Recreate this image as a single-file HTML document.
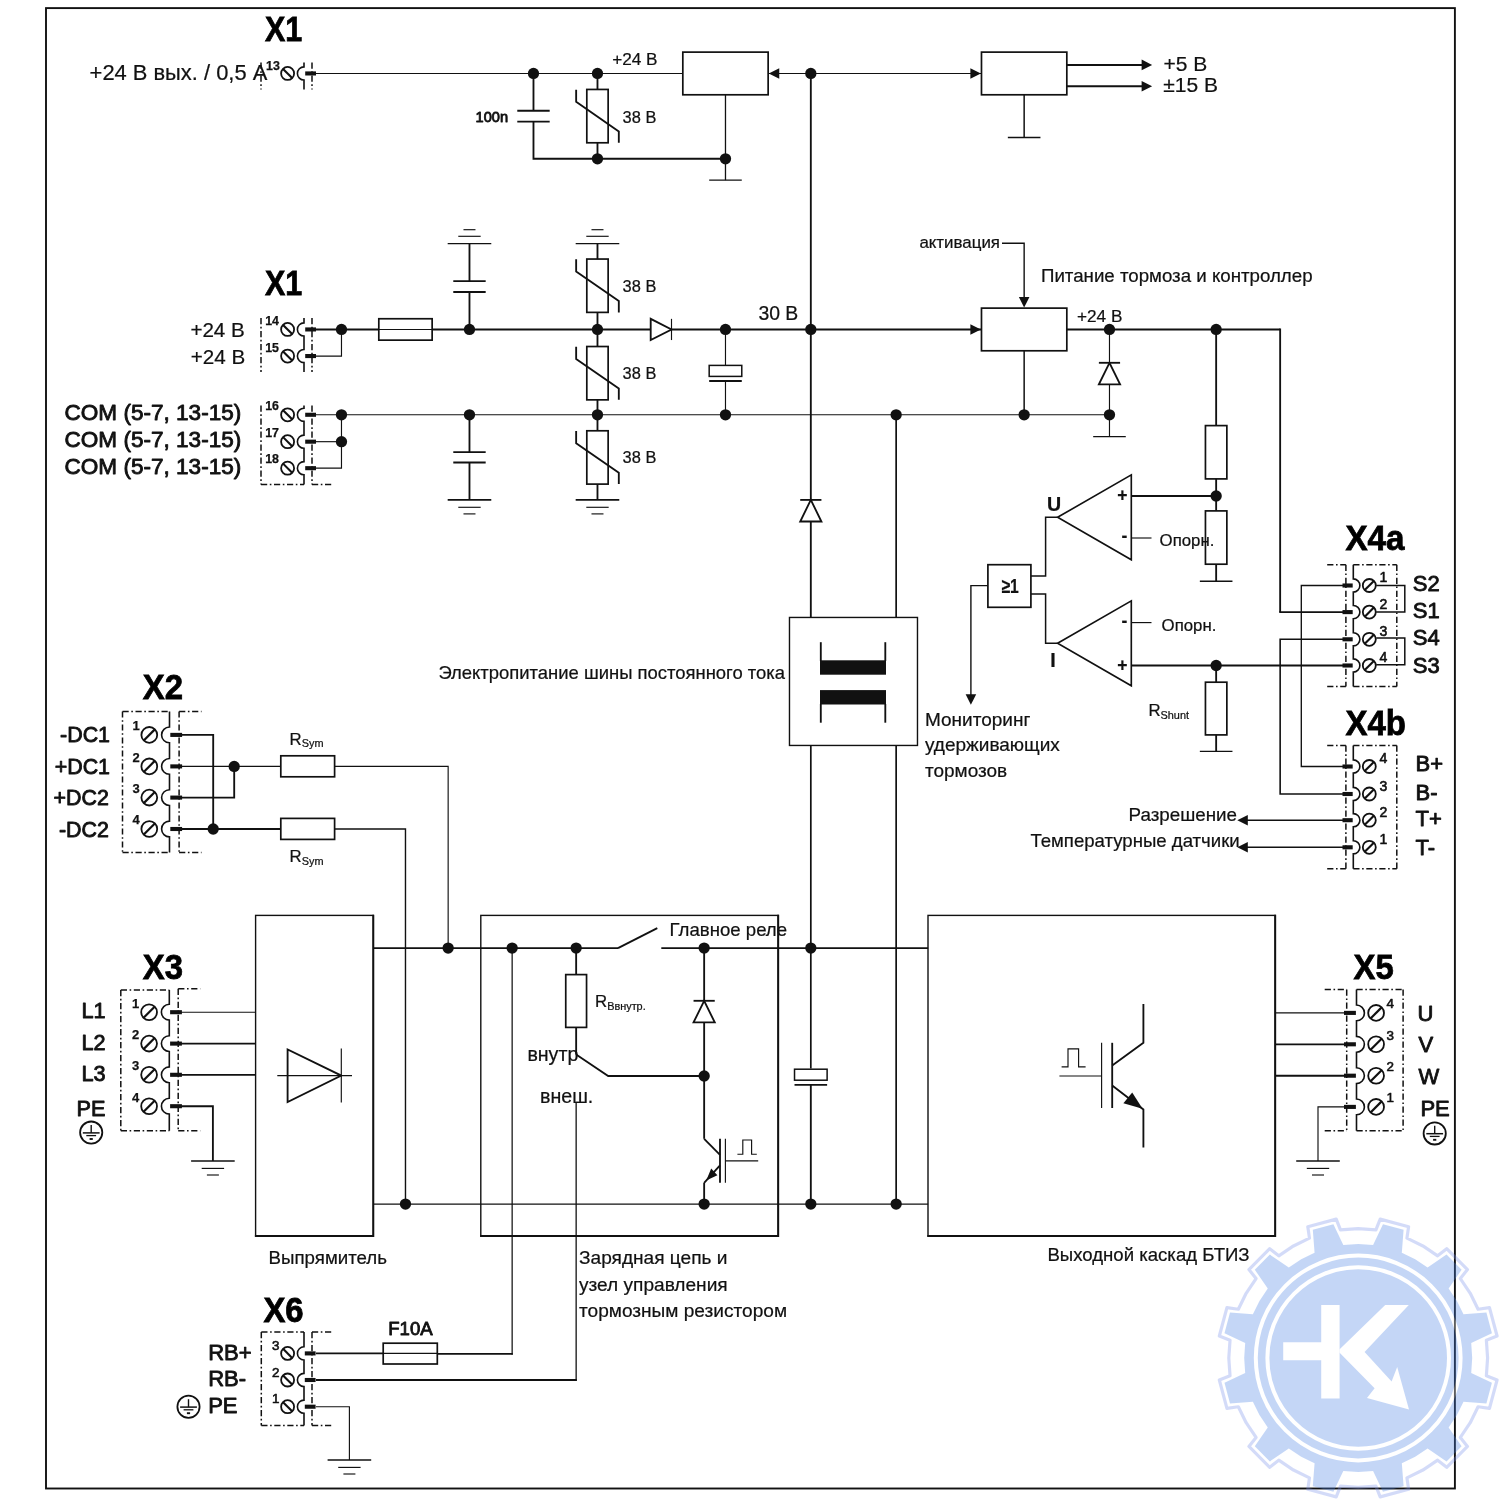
<!DOCTYPE html>
<html lang="ru">
<head>
<meta charset="utf-8">
<title>Структурная схема преобразователя</title>
<style>
html,body{margin:0;padding:0;background:#fff;}
body{width:1500px;height:1500px;overflow:hidden;}
svg{display:block;will-change:transform;font-family:"Liberation Sans",sans-serif;}
svg text{stroke:#111;stroke-width:0.22px;}
svg text.s{stroke:#111;stroke-width:0.85px;stroke-linejoin:round;}
svg text.n{stroke:#111;stroke-width:0.6px;stroke-linejoin:round;}
svg text.m{stroke:#111;stroke-width:0.25px;}
svg text.h{stroke:#000;stroke-width:0.8px;fill:#000;}
</style>
</head>
<body>
<svg width="1500" height="1500" viewBox="0 0 1500 1500">
<rect x="0" y="0" width="1500" height="1500" fill="#fff"/>
<g stroke="#111" fill="none">
<rect x="46" y="8.1" width="1408.9" height="1480.4" stroke-width="1.9" fill="none"/>
<path d="M261 62.5L261 89.5" stroke-width="1.5" stroke-dasharray="6.2 2.6 1.6 2.6"/>
<path d="M312 62.5L312 89.5" stroke-width="1.5" stroke-dasharray="6.2 2.6 1.6 2.6"/>
<path d="M304 62.5L304 66.85A6.6 6.6 0 0 0 304 80.05L304 89.5" stroke-width="1.6"/>
<circle cx="287.6" cy="73.45" r="6.5" stroke-width="1.8" fill="#fff"/>
<path d="M283.05 68.9L292.15 78" stroke-width="2.1"/>
<path d="M305.2 73.45L316 73.45" stroke-width="4.1"/>
<path d="M316 73.45L682.82 73.45" stroke-width="1.15"/>
<circle cx="533.48" cy="73.45" r="5.65" fill="#111" stroke="none"/>
<circle cx="597.48" cy="73.45" r="5.65" fill="#111" stroke="none"/>
<path d="M533.48 73.45 L533.48 110.7" stroke-width="1.85"/>
<path d="M517.28 110.7L549.68 110.7" stroke-width="1.85"/>
<path d="M517.28 121.6L549.68 121.6" stroke-width="1.85"/>
<path d="M533.48 121.6 L533.48 158.78 L725.48 158.78" stroke-width="1.85"/>
<path d="M597.48 73.45L597.48 89.45" stroke-width="1.85"/>
<rect x="586.81" y="89.45" width="21.33" height="53.33" stroke-width="1.7" fill="none"/>
<path d="M576.15 89.65 L576.15 101.85 L618.81 131.45 L618.81 142.78" stroke-width="1.85"/>
<path d="M597.48 142.78L597.48 158.78" stroke-width="1.85"/>
<circle cx="597.48" cy="158.78" r="5.65" fill="#111" stroke="none"/>
<rect x="682.82" y="52.12" width="85.33" height="42.66" stroke-width="1.7" fill="none"/>
<path d="M725.48 94.78L725.48 180.12" stroke-width="1.3"/>
<circle cx="725.48" cy="158.78" r="5.65" fill="#111" stroke="none"/>
<path d="M709.18 180.12L741.78 180.12" stroke-width="1.35"/>
<path d="M768.15 73.45L981.48 73.45" stroke-width="1.15"/>
<path d="M768.75 73.45 L779.25 68.15 L779.25 78.75 Z" fill="#111" stroke="none"/>
<path d="M980.88 73.45 L970.38 68.15 L970.38 78.75 Z" fill="#111" stroke="none"/>
<circle cx="810.82" cy="73.45" r="5.65" fill="#111" stroke="none"/>
<rect x="981.48" y="52.12" width="85.34" height="42.66" stroke-width="1.7" fill="none"/>
<path d="M1024.15 94.78L1024.15 137.45" stroke-width="1.5"/>
<path d="M1007.85 137.45L1040.45 137.45" stroke-width="1.35"/>
<path d="M1066.82 64.92L1146.15 64.92" stroke-width="2"/>
<path d="M1152.15 64.92 L1141.65 59.62 L1141.65 70.22 Z" fill="#111" stroke="none"/>
<path d="M1066.82 86.25L1146.15 86.25" stroke-width="2"/>
<path d="M1152.15 86.25 L1141.65 80.95 L1141.65 91.55 Z" fill="#111" stroke="none"/>
<path d="M261 318L261 372" stroke-width="1.5" stroke-dasharray="6.2 2.6 1.6 2.6"/>
<path d="M312 318L312 372" stroke-width="1.5" stroke-dasharray="6.2 2.6 1.6 2.6"/>
<path d="M304 318L304 322.85A6.6 6.6 0 0 0 304 336.05L304 349.45A6.6 6.6 0 0 0 304 362.65L304 372" stroke-width="1.6"/>
<circle cx="287.6" cy="329.45" r="6.5" stroke-width="1.8" fill="#fff"/>
<path d="M283.05 324.9L292.15 334" stroke-width="2.1"/>
<circle cx="287.6" cy="356.05" r="6.5" stroke-width="1.8" fill="#fff"/>
<path d="M283.05 351.5L292.15 360.6" stroke-width="2.1"/>
<path d="M305.2 329.45L316 329.45" stroke-width="4.1"/>
<path d="M305.2 356.05L316 356.05" stroke-width="4.1"/>
<path d="M316 329.45L378.81 329.45" stroke-width="1.85"/>
<path d="M316 356.05 L341.48 356.05 L341.48 329.45" stroke-width="1.15"/>
<circle cx="341.48" cy="329.45" r="5.65" fill="#111" stroke="none"/>
<rect x="378.81" y="318.75" width="53.33" height="21.4" stroke-width="1.7" fill="none"/>
<path d="M378.81 329.45L432.15 329.45" stroke-width="1.15"/>
<path d="M432.15 329.45L650.7 329.45" stroke-width="1.85"/>
<path d="M650.7 318.85L650.7 340.05L671.5 329.45Z" stroke-width="1.85" fill="#fff"/>
<path d="M671.5 318.85L671.5 340.05" stroke-width="1.15"/>
<path d="M671.5 329.45L981.48 329.45" stroke-width="1.85"/>
<path d="M980.88 329.45 L970.38 324.15 L970.38 334.75 Z" fill="#111" stroke="none"/>
<circle cx="469.48" cy="329.45" r="5.65" fill="#111" stroke="none"/>
<circle cx="597.48" cy="329.45" r="5.65" fill="#111" stroke="none"/>
<circle cx="725.48" cy="329.45" r="5.65" fill="#111" stroke="none"/>
<circle cx="810.82" cy="329.45" r="5.65" fill="#111" stroke="none"/>
<path d="M469.48 329.45L469.48 292" stroke-width="1.85"/>
<path d="M453.28 281.1L485.68 281.1" stroke-width="1.85"/>
<path d="M453.28 292L485.68 292" stroke-width="1.85"/>
<path d="M469.48 281.1L469.48 243.7" stroke-width="1.85"/>
<path d="M447.68 243.7L491.28 243.7" stroke-width="1.3"/>
<path d="M458.28 236.3L480.68 236.3" stroke-width="1.15"/>
<path d="M463.48 229.7L475.48 229.7" stroke-width="1.15"/>
<path d="M597.48 243.7L597.48 259.05" stroke-width="1.85"/>
<path d="M575.68 243.7L619.28 243.7" stroke-width="1.3"/>
<path d="M586.28 236.3L608.68 236.3" stroke-width="1.15"/>
<path d="M591.48 229.7L603.48 229.7" stroke-width="1.15"/>
<rect x="586.81" y="259.05" width="21.33" height="53.33" stroke-width="1.7" fill="none"/>
<path d="M576.15 259.25 L576.15 271.45 L618.81 301.05 L618.81 312.38" stroke-width="1.85"/>
<path d="M597.48 312.38L597.48 329.45" stroke-width="1.85"/>
<path d="M597.48 329.45L597.48 346.52" stroke-width="1.85"/>
<rect x="586.81" y="346.52" width="21.33" height="53.33" stroke-width="1.7" fill="none"/>
<path d="M576.15 346.72 L576.15 358.92 L618.81 388.52 L618.81 399.85" stroke-width="1.85"/>
<path d="M597.48 399.85L597.48 414.78" stroke-width="1.85"/>
<path d="M597.48 414.78L597.48 430.78" stroke-width="1.85"/>
<rect x="586.81" y="430.78" width="21.33" height="53.33" stroke-width="1.7" fill="none"/>
<path d="M576.15 430.98 L576.15 443.18 L618.81 472.78 L618.81 484.11" stroke-width="1.85"/>
<path d="M597.48 484.12L597.48 499.9" stroke-width="1.85"/>
<path d="M575.68 499.9L619.28 499.9" stroke-width="1.9"/>
<path d="M586.28 507.3L608.68 507.3" stroke-width="1.15"/>
<path d="M591.48 513.9L603.48 513.9" stroke-width="1.15"/>
<path d="M469.48 414.78L469.48 452.1" stroke-width="1.85"/>
<path d="M453.28 452.1L485.68 452.1" stroke-width="1.85"/>
<path d="M453.28 462.5L485.68 462.5" stroke-width="1.85"/>
<path d="M469.48 462.5L469.48 499.9" stroke-width="1.85"/>
<path d="M447.68 499.9L491.28 499.9" stroke-width="1.7"/>
<path d="M458.28 507.3L480.68 507.3" stroke-width="1.15"/>
<path d="M463.48 513.9L475.48 513.9" stroke-width="1.15"/>
<path d="M725.48 329.45L725.48 365.4" stroke-width="1.15"/>
<rect x="709.18" y="365.4" width="32.6" height="11" stroke-width="1.5" fill="none"/>
<path d="M709.18 381L741.78 381" stroke-width="1.85"/>
<path d="M725.48 381L725.48 414.78" stroke-width="1.15"/>
<path d="M261 405.5L261 484.4" stroke-width="1.5" stroke-dasharray="6.2 2.6 1.6 2.6"/>
<path d="M312 405.5L312 484.4" stroke-width="1.5" stroke-dasharray="6.2 2.6 1.6 2.6"/>
<path d="M261 484.4L304 484.4" stroke-width="1.5" stroke-dasharray="6.2 2.6 1.6 2.6"/>
<path d="M312 484.4L331.5 484.4" stroke-width="1.5" stroke-dasharray="6.2 2.6 1.6 2.6"/>
<path d="M304 405.5L304 408.18A6.6 6.6 0 0 0 304 421.38L304 435.08A6.6 6.6 0 0 0 304 448.28L304 461.58A6.6 6.6 0 0 0 304 474.78L304 484.4" stroke-width="1.6"/>
<circle cx="287.6" cy="414.78" r="6.5" stroke-width="1.8" fill="#fff"/>
<path d="M283.05 410.23L292.15 419.33" stroke-width="2.1"/>
<path d="M305.2 414.78L316 414.78" stroke-width="4.1"/>
<circle cx="287.6" cy="441.68" r="6.5" stroke-width="1.8" fill="#fff"/>
<path d="M283.05 437.13L292.15 446.23" stroke-width="2.1"/>
<path d="M305.2 441.68L316 441.68" stroke-width="4.1"/>
<circle cx="287.6" cy="468.18" r="6.5" stroke-width="1.8" fill="#fff"/>
<path d="M283.05 463.63L292.15 472.73" stroke-width="2.1"/>
<path d="M305.2 468.18L316 468.18" stroke-width="4.1"/>
<path d="M316 414.78L1109.48 414.78" stroke-width="1.15"/>
<path d="M316 441.68L341.48 441.68" stroke-width="1.15"/>
<path d="M316 468.18 L341.48 468.18 L341.48 414.78" stroke-width="1.15"/>
<circle cx="341.48" cy="414.78" r="5.65" fill="#111" stroke="none"/>
<circle cx="341.48" cy="441.68" r="5.65" fill="#111" stroke="none"/>
<circle cx="469.48" cy="414.78" r="5.65" fill="#111" stroke="none"/>
<circle cx="597.48" cy="414.78" r="5.65" fill="#111" stroke="none"/>
<circle cx="725.48" cy="414.78" r="5.65" fill="#111" stroke="none"/>
<circle cx="896.15" cy="414.78" r="5.65" fill="#111" stroke="none"/>
<circle cx="1024.15" cy="414.78" r="5.65" fill="#111" stroke="none"/>
<circle cx="1109.48" cy="414.78" r="5.65" fill="#111" stroke="none"/>
<path d="M810.82 73.45L810.82 617.3" stroke-width="1.85"/>
<path d="M800.22 499.9L821.42 499.9" stroke-width="1.85"/>
<path d="M810.82 499.9L800.22 521.5L821.42 521.5Z" stroke-width="1.85" fill="#fff"/>
<path d="M896.15 414.78L896.15 617.3" stroke-width="1.7"/>
<rect x="981.48" y="308.12" width="85.34" height="42.66" stroke-width="1.7" fill="none"/>
<path d="M1024.15 350.78L1024.15 414.78" stroke-width="1.5"/>
<path d="M1002 243.2 L1024.15 243.2 L1024.15 302.12" stroke-width="1.4"/>
<path d="M1024.15 307.62 L1018.85 297.12 L1029.45 297.12 Z" fill="#111" stroke="none"/>
<path d="M1066.82 329.45L1280.15 329.45" stroke-width="1.85"/>
<path d="M1280.15 328.55L1280.15 612.1" stroke-width="1.85"/>
<circle cx="1109.48" cy="329.45" r="5.65" fill="#111" stroke="none"/>
<circle cx="1216.15" cy="329.45" r="5.65" fill="#111" stroke="none"/>
<path d="M1109.48 329.45L1109.48 362.8" stroke-width="1.15"/>
<path d="M1098.88 362.8L1120.08 362.8" stroke-width="1.85"/>
<path d="M1109.48 362.8L1098.88 384.4L1120.08 384.4Z" stroke-width="1.85" fill="#fff"/>
<path d="M1109.48 384.4L1109.48 436.6" stroke-width="1.15"/>
<path d="M1093.18 436.6L1125.78 436.6" stroke-width="1.35"/>
<path d="M1216.15 329.45L1216.15 425.6" stroke-width="1.85"/>
<rect x="1205.45" y="425.6" width="21.4" height="53.3" stroke-width="1.7" fill="none"/>
<path d="M1216.15 478.9L1216.15 510.9" stroke-width="1.85"/>
<circle cx="1216.15" cy="496" r="5.65" fill="#111" stroke="none"/>
<rect x="1205.45" y="510.9" width="21.4" height="53.3" stroke-width="1.7" fill="none"/>
<path d="M1216.15 564.2L1216.15 581.2" stroke-width="1.85"/>
<path d="M1199.85 581.2L1232.45 581.2" stroke-width="1.35"/>
<path d="M1057.6 517.3L1131.3 474.9L1131.3 559.7Z" stroke-width="1.65" fill="none"/>
<path d="M1057.6 643.3L1131.3 600.9L1131.3 685.7Z" stroke-width="1.65" fill="none"/>
<path d="M1057.6 517.3 L1045.6 517.3 L1045.6 575.9 L1030.9 575.9" stroke-width="1.5"/>
<path d="M1030.9 594 L1045.6 594 L1045.6 643.3 L1057.6 643.3" stroke-width="1.5"/>
<rect x="987.9" y="564.7" width="43" height="42.6" stroke-width="1.7" fill="none"/>
<path d="M987.9 585.6 L970.9 585.6 L970.9 696" stroke-width="1.4"/>
<path d="M970.9 704.8 L965.6 694.3 L976.2 694.3 Z" fill="#111" stroke="none"/>
<path d="M1131.3 496L1216.15 496" stroke-width="1.85"/>
<path d="M1131.3 538L1151.5 538" stroke-width="1.15"/>
<path d="M1131.3 622.6L1151.5 622.6" stroke-width="1.15"/>
<path d="M1131.3 665.5L1344 665.5" stroke-width="1.85"/>
<circle cx="1216.15" cy="665.5" r="5.65" fill="#111" stroke="none"/>
<path d="M1216.15 665.5L1216.15 682.2" stroke-width="1.85"/>
<rect x="1205.45" y="682.2" width="21.4" height="52.7" stroke-width="1.7" fill="none"/>
<path d="M1216.15 734.9L1216.15 751.3" stroke-width="1.85"/>
<path d="M1199.85 751.3L1232.45 751.3" stroke-width="1.35"/>
<rect x="789.48" y="617.45" width="128" height="128" stroke-width="1.4" fill="none"/>
<rect x="820" y="660.3" width="66" height="14.4" fill="#111" stroke="none"/>
<rect x="820" y="690.1" width="66" height="14.4" fill="#111" stroke="none"/>
<path d="M820.8 642.2L820.8 661" stroke-width="1.85"/>
<path d="M885.3 642.2L885.3 661" stroke-width="1.85"/>
<path d="M820.8 704L820.8 722.7" stroke-width="1.85"/>
<path d="M885.3 704L885.3 722.7" stroke-width="1.85"/>
<path d="M1345.9 564.7L1345.9 686.5" stroke-width="1.5" stroke-dasharray="6.2 2.6 1.6 2.6"/>
<path d="M1396.8 564.7L1396.8 686.5" stroke-width="1.5" stroke-dasharray="6.2 2.6 1.6 2.6"/>
<path d="M1327.2 564.7L1345.9 564.7" stroke-width="1.5" stroke-dasharray="6.2 2.6 1.6 2.6"/>
<path d="M1353.3 564.7L1396.8 564.7" stroke-width="1.5" stroke-dasharray="6.2 2.6 1.6 2.6"/>
<path d="M1327.2 686.5L1345.9 686.5" stroke-width="1.5" stroke-dasharray="6.2 2.6 1.6 2.6"/>
<path d="M1353.3 686.5L1396.8 686.5" stroke-width="1.5" stroke-dasharray="6.2 2.6 1.6 2.6"/>
<path d="M1353.3 564.7L1353.3 578.9A6.6 6.6 0 0 1 1353.3 592.1L1353.3 605.5A6.6 6.6 0 0 1 1353.3 618.7L1353.3 632.7A6.6 6.6 0 0 1 1353.3 645.9L1353.3 658.9A6.6 6.6 0 0 1 1353.3 672.1L1353.3 686.5" stroke-width="1.6"/>
<circle cx="1369.3" cy="585.5" r="6.5" stroke-width="1.8" fill="#fff"/>
<path d="M1364.75 590.05L1373.85 580.95" stroke-width="2.1"/>
<path d="M1342.5 585.5L1352.7 585.5" stroke-width="4.1"/>
<circle cx="1369.3" cy="612.1" r="6.5" stroke-width="1.8" fill="#fff"/>
<path d="M1364.75 616.65L1373.85 607.55" stroke-width="2.1"/>
<path d="M1342.5 612.1L1352.7 612.1" stroke-width="4.1"/>
<circle cx="1369.3" cy="639.3" r="6.5" stroke-width="1.8" fill="#fff"/>
<path d="M1364.75 643.85L1373.85 634.75" stroke-width="2.1"/>
<path d="M1342.5 639.3L1352.7 639.3" stroke-width="4.1"/>
<circle cx="1369.3" cy="665.5" r="6.5" stroke-width="1.8" fill="#fff"/>
<path d="M1364.75 670.05L1373.85 660.95" stroke-width="2.1"/>
<path d="M1342.5 665.5L1352.7 665.5" stroke-width="4.1"/>
<path d="M1345.9 745.5L1345.9 868.7" stroke-width="1.5" stroke-dasharray="6.2 2.6 1.6 2.6"/>
<path d="M1396.8 745.5L1396.8 868.7" stroke-width="1.5" stroke-dasharray="6.2 2.6 1.6 2.6"/>
<path d="M1327.2 745.5L1345.9 745.5" stroke-width="1.5" stroke-dasharray="6.2 2.6 1.6 2.6"/>
<path d="M1353.3 745.5L1396.8 745.5" stroke-width="1.5" stroke-dasharray="6.2 2.6 1.6 2.6"/>
<path d="M1327.2 868.7L1345.9 868.7" stroke-width="1.5" stroke-dasharray="6.2 2.6 1.6 2.6"/>
<path d="M1353.3 868.7L1396.8 868.7" stroke-width="1.5" stroke-dasharray="6.2 2.6 1.6 2.6"/>
<path d="M1353.3 745.5L1353.3 759.9A6.6 6.6 0 0 1 1353.3 773.1L1353.3 787.4A6.6 6.6 0 0 1 1353.3 800.6L1353.3 813.6A6.6 6.6 0 0 1 1353.3 826.8L1353.3 840.7A6.6 6.6 0 0 1 1353.3 853.9L1353.3 868.7" stroke-width="1.6"/>
<circle cx="1369.3" cy="766.5" r="6.5" stroke-width="1.8" fill="#fff"/>
<path d="M1364.75 771.05L1373.85 761.95" stroke-width="2.1"/>
<path d="M1342.5 766.5L1352.7 766.5" stroke-width="4.1"/>
<circle cx="1369.3" cy="794" r="6.5" stroke-width="1.8" fill="#fff"/>
<path d="M1364.75 798.55L1373.85 789.45" stroke-width="2.1"/>
<path d="M1342.5 794L1352.7 794" stroke-width="4.1"/>
<circle cx="1369.3" cy="820.2" r="6.5" stroke-width="1.8" fill="#fff"/>
<path d="M1364.75 824.75L1373.85 815.65" stroke-width="2.1"/>
<path d="M1342.5 820.2L1352.7 820.2" stroke-width="4.1"/>
<circle cx="1369.3" cy="847.3" r="6.5" stroke-width="1.8" fill="#fff"/>
<path d="M1364.75 851.85L1373.85 842.75" stroke-width="2.1"/>
<path d="M1342.5 847.3L1352.7 847.3" stroke-width="4.1"/>
<path d="M1376.2 585.5 L1404.8 585.5 L1404.8 612.1 L1376.2 612.1" stroke-width="1.5"/>
<path d="M1376.2 638.1 L1404.8 638.1 L1404.8 664.7 L1376.2 664.7" stroke-width="1.5"/>
<path d="M1280.15 611.2 L1280.15 612.1 L1343 612.1" stroke-width="1.85"/>
<path d="M1343 585.5 L1301.3 585.5 L1301.3 766.5 L1343 766.5" stroke-width="1.35"/>
<path d="M1343 639.3 L1280.15 639.3 L1280.15 794 L1343 794" stroke-width="1.6"/>
<path d="M1246 820.2L1343 820.2" stroke-width="1.5"/>
<path d="M1237.3 820.2 L1247.8 814.9 L1247.8 825.5 Z" fill="#111" stroke="none"/>
<path d="M1246 847.3L1343 847.3" stroke-width="1.5"/>
<path d="M1237.3 847.3 L1247.8 842 L1247.8 852.6 Z" fill="#111" stroke="none"/>
<path d="M122.5 711.4L122.5 852.5" stroke-width="1.5" stroke-dasharray="6.2 2.6 1.6 2.6"/>
<path d="M179.1 711.4L179.1 852.5" stroke-width="1.5" stroke-dasharray="6.2 2.6 1.6 2.6"/>
<path d="M122.5 711.4L169.5 711.4" stroke-width="1.5" stroke-dasharray="6.2 2.6 1.6 2.6"/>
<path d="M179.1 711.4L201.5 711.4" stroke-width="1.5" stroke-dasharray="6.2 2.6 1.6 2.6"/>
<path d="M122.5 852.5L169.5 852.5" stroke-width="1.5" stroke-dasharray="6.2 2.6 1.6 2.6"/>
<path d="M179.1 852.5L201.5 852.5" stroke-width="1.5" stroke-dasharray="6.2 2.6 1.6 2.6"/>
<path d="M169.5 711.4L169.5 727A7.9 7.9 0 0 0 169.5 742.8L169.5 758.5A7.9 7.9 0 0 0 169.5 774.3L169.5 789.7A7.9 7.9 0 0 0 169.5 805.5L169.5 821.1A7.9 7.9 0 0 0 169.5 836.9L169.5 852.5" stroke-width="1.6"/>
<circle cx="149.3" cy="734.9" r="7.9" stroke-width="1.8" fill="#fff"/>
<path d="M143.77 740.43L154.83 729.37" stroke-width="2.2"/>
<path d="M170.3 734.9L182.1 734.9" stroke-width="4.1"/>
<circle cx="149.3" cy="766.4" r="7.9" stroke-width="1.8" fill="#fff"/>
<path d="M143.77 771.93L154.83 760.87" stroke-width="2.2"/>
<path d="M170.3 766.4L182.1 766.4" stroke-width="4.1"/>
<circle cx="149.3" cy="797.6" r="7.9" stroke-width="1.8" fill="#fff"/>
<path d="M143.77 803.13L154.83 792.07" stroke-width="2.2"/>
<path d="M170.3 797.6L182.1 797.6" stroke-width="4.1"/>
<circle cx="149.3" cy="829" r="7.9" stroke-width="1.8" fill="#fff"/>
<path d="M143.77 834.53L154.83 823.47" stroke-width="2.2"/>
<path d="M170.3 829L182.1 829" stroke-width="4.1"/>
<path d="M182 734.9 L213.2 734.9 L213.2 829" stroke-width="1.85"/>
<path d="M182 766.4L280.8 766.4" stroke-width="1.15"/>
<path d="M182 797.6 L234.2 797.6 L234.2 766.4" stroke-width="1.85"/>
<path d="M182 829L280.8 829" stroke-width="1.85"/>
<circle cx="234.2" cy="766.4" r="5.65" fill="#111" stroke="none"/>
<circle cx="213.2" cy="829" r="5.65" fill="#111" stroke="none"/>
<rect x="280.8" y="755.8" width="53.8" height="21" stroke-width="1.7" fill="none"/>
<rect x="280.8" y="818.4" width="53.8" height="21" stroke-width="1.7" fill="none"/>
<path d="M334.6 766.4 L448.15 766.4 L448.15 948.12" stroke-width="1.15"/>
<path d="M334.6 829 L405.48 829 L405.48 1204.12" stroke-width="1.4"/>
<path d="M120.8 990L120.8 1130.7" stroke-width="1.5" stroke-dasharray="6.2 2.6 1.6 2.6"/>
<path d="M178.2 988.8L178.2 1130.7" stroke-width="1.5" stroke-dasharray="6.2 2.6 1.6 2.6"/>
<path d="M120.8 990L169.3 990" stroke-width="1.5" stroke-dasharray="6.2 2.6 1.6 2.6"/>
<path d="M178.2 988.8L200.2 988.8" stroke-width="1.5" stroke-dasharray="6.2 2.6 1.6 2.6"/>
<path d="M120.8 1130.7L169.3 1130.7" stroke-width="1.5" stroke-dasharray="6.2 2.6 1.6 2.6"/>
<path d="M178.2 1130.7L200.2 1130.7" stroke-width="1.5" stroke-dasharray="6.2 2.6 1.6 2.6"/>
<path d="M169.3 990L169.3 1004.3A7.9 7.9 0 0 0 169.3 1020.1L169.3 1035.7A7.9 7.9 0 0 0 169.3 1051.5L169.3 1066.9A7.9 7.9 0 0 0 169.3 1082.7L169.3 1098.3A7.9 7.9 0 0 0 169.3 1114.1L169.3 1130.7" stroke-width="1.6"/>
<circle cx="149.1" cy="1012.2" r="7.9" stroke-width="1.8" fill="#fff"/>
<path d="M143.57 1017.73L154.63 1006.67" stroke-width="2.2"/>
<path d="M170.1 1012.2L181.9 1012.2" stroke-width="4.1"/>
<circle cx="149.1" cy="1043.6" r="7.9" stroke-width="1.8" fill="#fff"/>
<path d="M143.57 1049.13L154.63 1038.07" stroke-width="2.2"/>
<path d="M170.1 1043.6L181.9 1043.6" stroke-width="4.1"/>
<circle cx="149.1" cy="1074.8" r="7.9" stroke-width="1.8" fill="#fff"/>
<path d="M143.57 1080.33L154.63 1069.27" stroke-width="2.2"/>
<path d="M170.1 1074.8L181.9 1074.8" stroke-width="4.1"/>
<circle cx="149.1" cy="1106.2" r="7.9" stroke-width="1.8" fill="#fff"/>
<path d="M143.57 1111.73L154.63 1100.67" stroke-width="2.2"/>
<path d="M170.1 1106.2L181.9 1106.2" stroke-width="4.1"/>
<rect x="255.6" y="915.4" width="117.7" height="320.6" stroke-width="1.4" fill="none"/>
<path d="M254.9 1236 L373.3 1236 L373.3 914.7" stroke-width="1.95"/>
<path d="M181 1012.2L255.6 1012.2" stroke-width="1.15"/>
<path d="M181 1043.6L255.6 1043.6" stroke-width="1.85"/>
<path d="M181 1074.8L255.6 1074.8" stroke-width="1.85"/>
<path d="M181 1106.2 L212.9 1106.2 L212.9 1161" stroke-width="1.85"/>
<path d="M191.1 1161L234.7 1161" stroke-width="1.3"/>
<path d="M201.7 1168.4L224.1 1168.4" stroke-width="1.15"/>
<path d="M206.9 1175L218.9 1175" stroke-width="1.15"/>
<path d="M287.6 1049.4L287.6 1102L341.3 1075.6Z" stroke-width="1.85" fill="none"/>
<path d="M277.3 1075.6L352 1075.6" stroke-width="1.15"/>
<path d="M341.3 1048.6L341.3 1102.6" stroke-width="1.15"/>
<path d="M373.3 948.12L618 948.12" stroke-width="1.85"/>
<path d="M618 948.12L657.3 928.2" stroke-width="1.85"/>
<path d="M661.3 948.12L928.15 948.12" stroke-width="1.85"/>
<path d="M373.3 1204.12L928.15 1204.12" stroke-width="1.4"/>
<circle cx="448.15" cy="948.12" r="5.65" fill="#111" stroke="none"/>
<circle cx="512.15" cy="948.12" r="5.65" fill="#111" stroke="none"/>
<circle cx="576.15" cy="948.12" r="5.65" fill="#111" stroke="none"/>
<circle cx="704.15" cy="948.12" r="5.65" fill="#111" stroke="none"/>
<circle cx="810.82" cy="948.12" r="5.65" fill="#111" stroke="none"/>
<circle cx="405.48" cy="1204.12" r="5.65" fill="#111" stroke="none"/>
<circle cx="704.15" cy="1204.12" r="5.65" fill="#111" stroke="none"/>
<circle cx="810.82" cy="1204.12" r="5.65" fill="#111" stroke="none"/>
<circle cx="896.15" cy="1204.12" r="5.65" fill="#111" stroke="none"/>
<path d="M810.82 745.45L810.82 1068.6" stroke-width="1.7"/>
<rect x="794.52" y="1069.2" width="32.6" height="11" stroke-width="1.5" fill="none"/>
<path d="M794.52 1084.8L827.12 1084.8" stroke-width="1.85"/>
<path d="M810.82 1084.8L810.82 1204.12" stroke-width="1.85"/>
<path d="M896.15 745.45L896.15 1204.12" stroke-width="1.7"/>
<rect x="480.8" y="915.4" width="297.4" height="320.6" stroke-width="1.4" fill="none"/>
<path d="M480.1 1236 L778.2 1236 L778.2 914.7" stroke-width="1.95"/>
<path d="M576.15 948.12L576.15 974.6" stroke-width="1.85"/>
<rect x="565.75" y="974.6" width="20.8" height="52.8" stroke-width="1.7" fill="none"/>
<path d="M576.15 1027.4L576.15 1054.6" stroke-width="1.85"/>
<path d="M576.15 1054.6 L608.2 1076 L704.15 1076" stroke-width="1.85"/>
<circle cx="704.15" cy="1076" r="5.65" fill="#111" stroke="none"/>
<path d="M576.15 1102.8L576.15 1380.9" stroke-width="1.3"/>
<path d="M576.75 1380L316 1380" stroke-width="1.85"/>
<path d="M704.15 948.12L704.15 1000.8" stroke-width="1.85"/>
<path d="M693.55 1000.8L714.75 1000.8" stroke-width="1.85"/>
<path d="M704.15 1000.8L693.55 1022.4L714.75 1022.4Z" stroke-width="1.85" fill="#fff"/>
<path d="M704.15 1022.4L704.15 1138.8" stroke-width="1.85"/>
<path d="M704.15 1138.8L720 1154.8" stroke-width="1.85"/>
<path d="M720 1138.8L720 1182.8" stroke-width="1.85"/>
<path d="M725.4 1138.8L725.4 1182.8" stroke-width="1.15"/>
<path d="M720 1165.4L704.15 1182.8" stroke-width="1.85"/>
<path d="M704.15 1182.8L704.15 1204.12" stroke-width="1.85"/>
<path d="M706.2 1180.6L711.2 1168.6L717.4 1175.2Z" fill="#111" stroke="none"/>
<path d="M725.4 1160.8L758.2 1160.8" stroke-width="1.15"/>
<path d="M737.4 1154.2 L742.8 1154.2 L742.8 1140 L751.6 1140 L751.6 1154.2 L756.8 1154.2" stroke-width="1.15"/>
<path d="M512.15 948.12L512.15 1354.7" stroke-width="1.25"/>
<path d="M512.75 1353.9L437.3 1353.9" stroke-width="1.8"/>
<rect x="928" y="915.4" width="347.2" height="320.6" stroke-width="1.4" fill="none"/>
<path d="M927.3 1236 L1275.2 1236 L1275.2 914.7" stroke-width="1.95"/>
<path d="M1101.6 1042.8L1101.6 1108" stroke-width="1.15"/>
<path d="M1112.2 1042.8L1112.2 1108" stroke-width="1.85"/>
<path d="M1059.4 1076L1101.6 1076" stroke-width="1.15"/>
<path d="M1061.6 1066.8 L1068 1066.8 L1068 1048.8 L1078.6 1048.8 L1078.6 1066.8 L1085.6 1066.8" stroke-width="1.15"/>
<path d="M1112.2 1065.4 L1143.4 1042.8 L1143.4 1004" stroke-width="1.85"/>
<path d="M1112.2 1085.4 L1143.4 1109.4 L1143.4 1147.6" stroke-width="1.85"/>
<path d="M1142.6 1108.8L1123.4 1103.2L1132.2 1092.4Z" fill="#111" stroke="none"/>
<path d="M1346.7 989.6L1346.7 1130.7" stroke-width="1.5" stroke-dasharray="6.2 2.6 1.6 2.6"/>
<path d="M1403.1 989.6L1403.1 1130.7" stroke-width="1.5" stroke-dasharray="6.2 2.6 1.6 2.6"/>
<path d="M1324.7 989.6L1346.7 989.6" stroke-width="1.5" stroke-dasharray="6.2 2.6 1.6 2.6"/>
<path d="M1356.5 989.6L1403.1 989.6" stroke-width="1.5" stroke-dasharray="6.2 2.6 1.6 2.6"/>
<path d="M1324.7 1130.7L1346.7 1130.7" stroke-width="1.5" stroke-dasharray="6.2 2.6 1.6 2.6"/>
<path d="M1356.5 1130.7L1403.1 1130.7" stroke-width="1.5" stroke-dasharray="6.2 2.6 1.6 2.6"/>
<path d="M1356.5 989.6L1356.5 1005A7.9 7.9 0 0 1 1356.5 1020.8L1356.5 1036.4A7.9 7.9 0 0 1 1356.5 1052.2L1356.5 1067.8A7.9 7.9 0 0 1 1356.5 1083.6L1356.5 1099A7.9 7.9 0 0 1 1356.5 1114.8L1356.5 1130.7" stroke-width="1.6"/>
<circle cx="1376.1" cy="1012.9" r="7.9" stroke-width="1.8" fill="#fff"/>
<path d="M1370.57 1018.43L1381.63 1007.37" stroke-width="2.2"/>
<path d="M1344 1012.9L1355.9 1012.9" stroke-width="4.1"/>
<circle cx="1376.1" cy="1044.3" r="7.9" stroke-width="1.8" fill="#fff"/>
<path d="M1370.57 1049.83L1381.63 1038.77" stroke-width="2.2"/>
<path d="M1344 1044.3L1355.9 1044.3" stroke-width="4.1"/>
<circle cx="1376.1" cy="1075.7" r="7.9" stroke-width="1.8" fill="#fff"/>
<path d="M1370.57 1081.23L1381.63 1070.17" stroke-width="2.2"/>
<path d="M1344 1075.7L1355.9 1075.7" stroke-width="4.1"/>
<circle cx="1376.1" cy="1106.9" r="7.9" stroke-width="1.8" fill="#fff"/>
<path d="M1370.57 1112.43L1381.63 1101.37" stroke-width="2.2"/>
<path d="M1344 1106.9L1355.9 1106.9" stroke-width="4.1"/>
<path d="M1275.2 1012.9L1344 1012.9" stroke-width="1.15"/>
<path d="M1275.2 1044.3L1344 1044.3" stroke-width="1.85"/>
<path d="M1275.2 1075.7L1344 1075.7" stroke-width="1.85"/>
<path d="M1344 1106.9 L1318 1106.9 L1318 1161" stroke-width="1.15"/>
<path d="M1296.2 1161L1339.8 1161" stroke-width="1.3"/>
<path d="M1306.8 1168.4L1329.2 1168.4" stroke-width="1.15"/>
<path d="M1312 1175L1324 1175" stroke-width="1.15"/>
<path d="M261.3 1332L261.3 1425.4" stroke-width="1.5" stroke-dasharray="6.2 2.6 1.6 2.6"/>
<path d="M312 1332L312 1425.4" stroke-width="1.5" stroke-dasharray="6.2 2.6 1.6 2.6"/>
<path d="M261.3 1332L304 1332" stroke-width="1.5" stroke-dasharray="6.2 2.6 1.6 2.6"/>
<path d="M312 1332L331.5 1332" stroke-width="1.5" stroke-dasharray="6.2 2.6 1.6 2.6"/>
<path d="M261.3 1425.4L304 1425.4" stroke-width="1.5" stroke-dasharray="6.2 2.6 1.6 2.6"/>
<path d="M312 1425.4L331.5 1425.4" stroke-width="1.5" stroke-dasharray="6.2 2.6 1.6 2.6"/>
<path d="M304 1332L304 1346.8A6.6 6.6 0 0 0 304 1360L304 1373.4A6.6 6.6 0 0 0 304 1386.6L304 1400.1A6.6 6.6 0 0 0 304 1413.3L304 1425.4" stroke-width="1.6"/>
<circle cx="287.6" cy="1353.4" r="6.5" stroke-width="1.8" fill="#fff"/>
<path d="M283.05 1348.85L292.15 1357.95" stroke-width="2.1"/>
<path d="M304.8 1353.4L315.6 1353.4" stroke-width="4.1"/>
<circle cx="287.6" cy="1380" r="6.5" stroke-width="1.8" fill="#fff"/>
<path d="M283.05 1375.45L292.15 1384.55" stroke-width="2.1"/>
<path d="M304.8 1380L315.6 1380" stroke-width="4.1"/>
<circle cx="287.6" cy="1406.7" r="6.5" stroke-width="1.8" fill="#fff"/>
<path d="M283.05 1402.15L292.15 1411.25" stroke-width="2.1"/>
<path d="M304.8 1406.7L315.6 1406.7" stroke-width="4.1"/>
<path d="M316 1353.4L383.2 1353.4" stroke-width="1.85"/>
<rect x="383.2" y="1343.2" width="54.1" height="20.8" stroke-width="1.7" fill="none"/>
<path d="M383.2 1353.4L437.3 1353.4" stroke-width="1.15"/>
<path d="M316 1406.7 L349.4 1406.7 L349.4 1460" stroke-width="1.15"/>
<path d="M327.6 1460L371.2 1460" stroke-width="1.3"/>
<path d="M338.2 1467.4L360.6 1467.4" stroke-width="1.15"/>
<path d="M343.4 1474L355.4 1474" stroke-width="1.15"/>
<circle cx="91.2" cy="1132.6" r="11.1" stroke-width="1.8" fill="none"/>
<path d="M91.2 1125L91.2 1132.9" stroke-width="1.4"/>
<path d="M82.8 1132.9L99.6 1132.9" stroke-width="1.5"/>
<path d="M86.3 1135.6L96.1 1135.6" stroke-width="1.3"/>
<path d="M89.6 1139L92.8 1139" stroke-width="1.9"/>
<circle cx="1434.7" cy="1133.4" r="11.1" stroke-width="1.8" fill="none"/>
<path d="M1434.7 1125.8L1434.7 1133.7" stroke-width="1.4"/>
<path d="M1426.3 1133.7L1443.1 1133.7" stroke-width="1.5"/>
<path d="M1429.8 1136.4L1439.6 1136.4" stroke-width="1.3"/>
<path d="M1433.1 1139.8L1436.3 1139.8" stroke-width="1.9"/>
<circle cx="188.5" cy="1406.8" r="11.1" stroke-width="1.8" fill="none"/>
<path d="M188.5 1399.2L188.5 1407.1" stroke-width="1.4"/>
<path d="M180.1 1407.1L196.9 1407.1" stroke-width="1.5"/>
<path d="M183.6 1409.8L193.4 1409.8" stroke-width="1.3"/>
<path d="M186.9 1413.2L190.1 1413.2" stroke-width="1.9"/>
</g>
<g fill="#111" stroke="none">
<text x="265" y="40.5" font-size="35" font-weight="bold" textLength="37.2" lengthAdjust="spacingAndGlyphs" class="h">X1</text>
<text x="265" y="294.8" font-size="35" font-weight="bold" textLength="37.2" lengthAdjust="spacingAndGlyphs" class="h">X1</text>
<text x="142.8" y="699.3" font-size="35" font-weight="bold" textLength="40.2" lengthAdjust="spacingAndGlyphs" class="h">X2</text>
<text x="142.8" y="978.7" font-size="35" font-weight="bold" textLength="40.2" lengthAdjust="spacingAndGlyphs" class="h">X3</text>
<text x="1345.4" y="549.9" font-size="35" font-weight="bold" textLength="59" lengthAdjust="spacingAndGlyphs" class="h">X4a</text>
<text x="1345.4" y="734.7" font-size="35" font-weight="bold" textLength="60.5" lengthAdjust="spacingAndGlyphs" class="h">X4b</text>
<text x="1353.6" y="978.7" font-size="35" font-weight="bold" textLength="40.2" lengthAdjust="spacingAndGlyphs" class="h">X5</text>
<text x="263.4" y="1321.5" font-size="35" font-weight="bold" textLength="40.2" lengthAdjust="spacingAndGlyphs" class="h">X6</text>
<text x="89.6" y="80.4" font-size="21.9">+24 В вых. / 0,5 А</text>
<text x="190.4" y="337.4" font-size="20.6">+24 В</text>
<text x="190.8" y="364.2" font-size="20.6">+24 В</text>
<text x="64.5" y="420.4" font-size="22.2" textLength="176.8" lengthAdjust="spacingAndGlyphs" class="s">COM (5-7, 13-15)</text>
<text x="64.5" y="447" font-size="22.2" textLength="176.8" lengthAdjust="spacingAndGlyphs" class="s">COM (5-7, 13-15)</text>
<text x="64.5" y="473.8" font-size="22.2" textLength="176.8" lengthAdjust="spacingAndGlyphs" class="s">COM (5-7, 13-15)</text>
<text x="1163.6" y="70.8" font-size="21">+5 В</text>
<text x="1163.2" y="92.2" font-size="21">±15 В</text>
<text x="612.2" y="64.8" font-size="17.2">+24 В</text>
<text x="622.6" y="122.6" font-size="16.4">38 В</text>
<text x="622.6" y="292" font-size="16.4">38 В</text>
<text x="622.6" y="379.4" font-size="16.4">38 В</text>
<text x="622.6" y="463.2" font-size="16.4">38 В</text>
<text x="475.6" y="122.2" font-size="14.6" class="s">100n</text>
<text x="758.4" y="320.4" font-size="19.4">30 В</text>
<text x="1077" y="322.2" font-size="17.2">+24 В</text>
<text x="919.4" y="248.2" font-size="16.9">активация</text>
<text x="1041" y="282.2" font-size="18.7">Питание тормоза и контроллер</text>
<text x="438.4" y="679.4" font-size="18.45">Электропитание шины постоянного тока</text>
<text x="925" y="726" font-size="19">Мониторинг</text>
<text x="925" y="751.4" font-size="19">удерживающих</text>
<text x="925" y="776.8" font-size="19">тормозов</text>
<text x="1159.6" y="546" font-size="16.8">Опорн.</text>
<text x="1161.6" y="631.4" font-size="16.8">Опорн.</text>
<text x="1128.6" y="820.8" font-size="18.8">Разрешение</text>
<text x="1030.4" y="847.4" font-size="18.6">Температурные датчики</text>
<text x="268.6" y="1264.4" font-size="18.7">Выпрямитель</text>
<text x="669.6" y="935.6" font-size="18.6">Главное реле</text>
<text x="527.4" y="1061" font-size="19.6">внутр</text>
<text x="540" y="1103" font-size="19.6">внеш.</text>
<text x="579" y="1264" font-size="19.1">Зарядная цепь и</text>
<text x="579" y="1290.8" font-size="19.1">узел управления</text>
<text x="579" y="1316.6" font-size="19.1">тормозным резистором</text>
<text x="1047.4" y="1260.6" font-size="18.6">Выходной каскад БТИЗ</text>
<text x="388.2" y="1334.8" font-size="18.6" class="s">F10A</text>
<text x="289.6" y="744.8" font-size="16.8">R<tspan font-size="10.9" dy="2.6">Sym</tspan></text>
<text x="289.6" y="862.2" font-size="16.8">R<tspan font-size="10.9" dy="2.6">Sym</tspan></text>
<text x="1148.4" y="716" font-size="16.8">R<tspan font-size="10.9" dy="2.6">Shunt</tspan></text>
<text x="595" y="1007.4" font-size="16.8">R<tspan font-size="10.9" dy="2.6">Bвнутр.</tspan></text>
<text x="110" y="742" font-size="21.4" text-anchor="end" class="s">-DC1</text>
<text x="110" y="774" font-size="21.4" text-anchor="end" class="s">+DC1</text>
<text x="108.8" y="804.8" font-size="21.4" text-anchor="end" class="s">+DC2</text>
<text x="108.8" y="836.8" font-size="21.4" text-anchor="end" class="s">-DC2</text>
<text x="81.4" y="1018" font-size="21.7" class="s">L1</text>
<text x="81.4" y="1050" font-size="21.7" class="s">L2</text>
<text x="81.4" y="1080.8" font-size="21.7" class="s">L3</text>
<text x="76.6" y="1116" font-size="21.7" class="s">PE</text>
<text x="1412.8" y="591.4" font-size="22" class="s">S2</text>
<text x="1412.8" y="617.6" font-size="22" class="s">S1</text>
<text x="1412.8" y="644.8" font-size="22" class="s">S4</text>
<text x="1412.8" y="673.2" font-size="22" class="s">S3</text>
<text x="1415.6" y="771.4" font-size="22" class="s">B+</text>
<text x="1415.6" y="800" font-size="22" class="s">B-</text>
<text x="1415.6" y="826" font-size="22" class="s">T+</text>
<text x="1415.6" y="855.4" font-size="22" class="s">T-</text>
<text x="1417.4" y="1020.8" font-size="22" class="s">U</text>
<text x="1418.4" y="1052" font-size="22" class="s">V</text>
<text x="1418.4" y="1083.6" font-size="22" class="s">W</text>
<text x="1420.4" y="1115.6" font-size="22" class="s">PE</text>
<text x="208.2" y="1359.6" font-size="22" class="s">RB+</text>
<text x="208.2" y="1386" font-size="22" class="s">RB-</text>
<text x="208.2" y="1413.4" font-size="22" class="s">PE</text>
<text x="1047" y="510.8" font-size="19.6" font-weight="bold">U</text>
<text x="1050.2" y="666.6" font-size="19.6" font-weight="bold">I</text>
<text x="1117.2" y="501.4" font-size="17.5" font-weight="bold">+</text>
<text x="1121.6" y="542.2" font-size="17.5" font-weight="bold">-</text>
<text x="1121.6" y="626.8" font-size="17.5" font-weight="bold">-</text>
<text x="1117.2" y="670.8" font-size="17.5" font-weight="bold">+</text>
<text x="1001.4" y="593.4" font-size="20.5" font-weight="bold" textLength="17.4" lengthAdjust="spacingAndGlyphs">≥1</text>
<text x="266" y="70" font-size="12.4" font-weight="bold" class="m">13</text>
<text x="265.2" y="325" font-size="12.4" font-weight="bold" class="m">14</text>
<text x="265.2" y="351.6" font-size="12.4" font-weight="bold" class="m">15</text>
<text x="265.2" y="410.2" font-size="12.4" font-weight="bold" class="m">16</text>
<text x="265.2" y="436.6" font-size="12.4" font-weight="bold" class="m">17</text>
<text x="265.2" y="463.4" font-size="12.4" font-weight="bold" class="m">18</text>
<text x="132.4" y="730.3" font-size="13" font-weight="bold" class="m">1</text>
<text x="132.4" y="761.8" font-size="13" font-weight="bold" class="m">2</text>
<text x="132.4" y="793" font-size="13" font-weight="bold" class="m">3</text>
<text x="132.4" y="824.4" font-size="13" font-weight="bold" class="m">4</text>
<text x="132" y="1007.6" font-size="13" font-weight="bold" class="m">1</text>
<text x="132" y="1039" font-size="13" font-weight="bold" class="m">2</text>
<text x="132" y="1070.2" font-size="13" font-weight="bold" class="m">3</text>
<text x="132" y="1101.6" font-size="13" font-weight="bold" class="m">4</text>
<text x="1379.4" y="582.3" font-size="14" class="n">1</text>
<text x="1379.4" y="608.9" font-size="14" class="n">2</text>
<text x="1379.4" y="636.1" font-size="14" class="n">3</text>
<text x="1379.4" y="662.3" font-size="14" class="n">4</text>
<text x="1379.4" y="763.3" font-size="14" class="n">4</text>
<text x="1379.4" y="790.8" font-size="14" class="n">3</text>
<text x="1379.4" y="817" font-size="14" class="n">2</text>
<text x="1379.4" y="844.1" font-size="14" class="n">1</text>
<text x="1386.4" y="1008.3" font-size="13.4" class="n">4</text>
<text x="1386.4" y="1039.7" font-size="13.4" class="n">3</text>
<text x="1386.4" y="1071.1" font-size="13.4" class="n">2</text>
<text x="1386.4" y="1102.3" font-size="13.4" class="n">1</text>
<text x="272" y="1350" font-size="13.4" class="n">3</text>
<text x="272" y="1376.6" font-size="13.4" class="n">2</text>
<text x="272" y="1403.3" font-size="13.4" class="n">1</text>
</g>
<g class="wm">
<g opacity="0.32">
<path d="M1470.26 1293.3 L1478.07 1309.26 L1489.46 1307.61 L1497.07 1336.01 L1486.38 1340.27 L1487.6 1358 L1486.38 1375.73 L1497.07 1379.99 L1489.46 1408.39 L1478.07 1406.74 L1470.26 1422.7 L1460.34 1437.44 L1467.47 1446.48 L1446.68 1467.27 L1437.64 1460.14 L1422.9 1470.06 L1406.94 1477.87 L1408.59 1489.26 L1380.19 1496.87 L1375.93 1486.18 L1358.2 1487.4 L1340.47 1486.18 L1336.21 1496.87 L1307.81 1489.26 L1309.46 1477.87 L1293.5 1470.06 L1278.76 1460.14 L1269.72 1467.27 L1248.93 1446.48 L1256.06 1437.44 L1246.14 1422.7 L1238.33 1406.74 L1226.94 1408.39 L1219.33 1379.99 L1230.02 1375.73 L1228.8 1358 L1230.02 1340.27 L1219.33 1336.01 L1226.94 1307.61 L1238.33 1309.26 L1246.14 1293.3 L1256.06 1278.56 L1248.93 1269.52 L1269.72 1248.73 L1278.76 1255.86 L1293.5 1245.94 L1309.46 1238.13 L1307.81 1226.74 L1336.21 1219.13 L1340.47 1229.82 L1358.2 1228.6 L1375.93 1229.82 L1380.19 1219.13 L1408.59 1226.74 L1406.94 1238.13 L1422.9 1245.94 L1437.64 1255.86 L1446.68 1248.73 L1467.47 1269.52 L1460.34 1278.56Z" fill="none" stroke="#7a90ec" stroke-width="3.2" stroke-linejoin="round"/>
<path d="M1456.93 1301 L1463.52 1314.37 L1486.4 1312.6 L1491.92 1333.22 L1471.22 1343.12 L1472.2 1358 L1471.22 1372.88 L1491.92 1382.78 L1486.4 1403.4 L1463.52 1401.63 L1456.93 1415 L1448.64 1427.4 L1461.62 1446.32 L1446.52 1461.42 L1427.6 1448.44 L1415.2 1456.73 L1401.83 1463.32 L1403.6 1486.2 L1382.98 1491.72 L1373.08 1471.02 L1358.2 1472 L1343.32 1471.02 L1333.42 1491.72 L1312.8 1486.2 L1314.57 1463.32 L1301.2 1456.73 L1288.8 1448.44 L1269.88 1461.42 L1254.78 1446.32 L1267.76 1427.4 L1259.47 1415 L1252.88 1401.63 L1230 1403.4 L1224.48 1382.78 L1245.18 1372.88 L1244.2 1358 L1245.18 1343.12 L1224.48 1333.22 L1230 1312.6 L1252.88 1314.37 L1259.47 1301 L1267.76 1288.6 L1254.78 1269.68 L1269.88 1254.58 L1288.8 1267.56 L1301.2 1259.27 L1314.57 1252.68 L1312.8 1229.8 L1333.42 1224.28 L1343.32 1244.98 L1358.2 1244 L1373.08 1244.98 L1382.98 1224.28 L1403.6 1229.8 L1401.83 1252.68 L1415.2 1259.27 L1427.6 1267.56 L1446.52 1254.58 L1461.62 1269.68 L1448.64 1288.6Z" fill="#4a82e6"/>
<circle cx="1358.2" cy="1358" r="104.6" fill="#4a82e6"/>
<circle cx="1358.2" cy="1358" r="102.4" fill="none" stroke="#fff" stroke-width="4"/>
<circle cx="1358.2" cy="1358" r="90.8" fill="none" stroke="#fff" stroke-width="4"/>
<path d="M1321.2 1305h18.4v93.6h-18.4z" fill="#fff"/>
<path d="M1283.2 1342.2h39v18h-39z" fill="#fff"/>
<path d="M1339.4 1349.6L1385.2 1305L1408.8 1305L1364.6 1352L1391.6 1381.4L1397.2 1367L1409 1409.6L1367 1398L1374.6 1388.2L1339.4 1352.4Z" fill="#fff"/>
</g>
</g>
</svg>
</body>
</html>
